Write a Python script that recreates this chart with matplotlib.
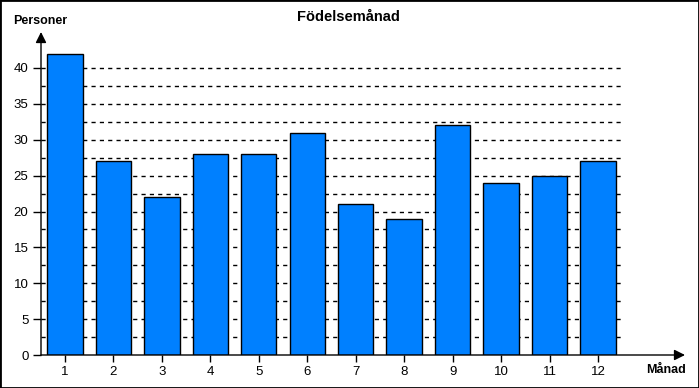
import matplotlib
matplotlib.use("Agg")
import matplotlib.pyplot as plt
from matplotlib.patches import Rectangle

months = [1, 2, 3, 4, 5, 6, 7, 8, 9, 10, 11, 12]
values = [42, 27, 22, 28, 28, 31, 21, 19, 32, 24, 25, 27]
yticks = [0, 5, 10, 15, 20, 25, 30, 35, 40]
gridlevels = [2.5 * i for i in range(1, 17)]

plt.rcParams['font.family'] = ['Liberation Sans', 'DejaVu Sans']

W, H = 699, 388
fig = plt.figure(figsize=(W / 100, H / 100), dpi=100)
ax = fig.add_axes([41 / W, 1 - 355 / H, (685 - 41) / W, (355 - 32) / H])

px_x = 48.45
x0 = 1 - 24 / px_x
x1 = 1 + 620 / px_x
xgrid_end = 1 + 556 / px_x
px_y = 287 / 40
ytop = (355 - 32) / px_y
ax.set_xlim(x0, x1)
ax.set_ylim(0, ytop)

ax.hlines(gridlevels, x0, xgrid_end, colors='black', linestyles=(0, (3, 3)), linewidth=1, zorder=1)
ax.bar(months, values, width=0.73, color='#0080FF', edgecolor='black', linewidth=1, zorder=2)

for s in ax.spines.values():
    s.set_visible(False)

# axes with arrows
ax.annotate('', xy=(x1, 0), xytext=(x0, 0), xycoords='data',
            arrowprops=dict(arrowstyle='-|>', color='black', lw=1, mutation_scale=16, shrinkA=0, shrinkB=0),
            annotation_clip=False, zorder=3)
ax.annotate('', xy=(x0, ytop), xytext=(x0, 0), xycoords='data',
            arrowprops=dict(arrowstyle='-|>', color='black', lw=1, mutation_scale=16, shrinkA=0, shrinkB=0),
            annotation_clip=False, zorder=3)

ax.set_yticks(yticks)
ax.set_yticklabels([str(v) for v in yticks], fontsize=9.5)
ax.set_xticks(months)
ax.set_xticklabels([str(m) for m in months], fontsize=9.5)
ax.tick_params(axis='y', direction='out', length=6, width=1, pad=3)
ax.tick_params(axis='x', direction='out', length=5, width=1, pad=3)

fig.text(13 / W, 1 - 21 / H, 'Personer', fontsize=9, fontweight='bold', ha='left', va='center')
fig.text(686 / W, 1 - 370 / H, 'Månad', fontsize=9, fontweight='bold', ha='right', va='center')
fig.text(348 / W, 1 - 17 / H, 'Födelsemånad', fontsize=10.5, fontweight='bold', ha='center', va='center')

fig.patches.append(Rectangle((0, 0), 1, 1, transform=fig.transFigure, fill=False,
                             edgecolor='black', linewidth=2))

fig.savefig('out.png', dpi=100)
